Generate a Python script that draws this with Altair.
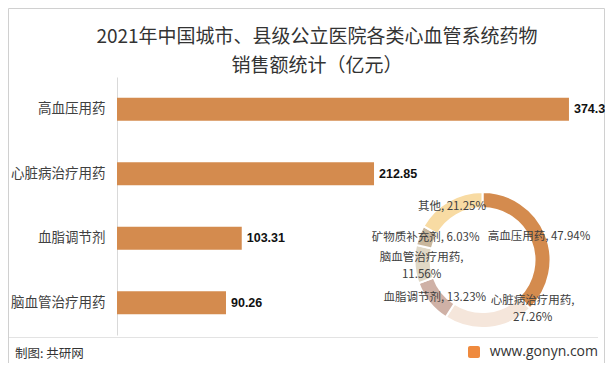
import altair as alt
import pandas as pd

# ---- data ----
bar_categories = ["高血压用药", "心脏病治疗用药", "血脂调节剂", "脑血管治疗用药"]
bar_values = [374.3, 212.85, 103.31, 90.26]

pie_categories = ["高血压用药", "心脏病治疗用药", "血脂调节剂", "脑血管治疗用药", "矿物质补充剂", "其他"]
pie_values = [47.94, 27.26, 13.23, 11.56, 6.03, 21.25]
pie_labels = ["高血压用药, 47.94%", "心脏病治疗用药,\n27.26%", "血脂调节剂, 13.23%",
              "脑血管治疗用药,\n11.56%", "矿物质补充剂, 6.03%", "其他, 21.25%"]
pie_colors = ["#D48B4E", "#F5E6DB", "#CFB1A6", "#E0D8C6", "#C9B79C", "#F8DBA3"]

title_text = "2021年中国城市、县级公立医院各类心血管系统药物\n销售额统计（亿元）"
source_text = "制图: 共研网"
site_text = "www.gonyn.com"

FONT = "Noto Sans CJK SC"

bar_df = pd.DataFrame({"cat": bar_categories, "val": bar_values,
                       "lab": [str(v) for v in bar_values]})
pie_df = pd.DataFrame({"cat": pie_categories, "val": pie_values,
                       "lab": pie_labels, "idx": list(range(len(pie_categories)))})

W, H = 483, 258
CX, CY = 365.5, 183

y_enc = alt.Y("cat:N", sort=bar_categories, title=None,
              scale=alt.Scale(paddingInner=0.64, paddingOuter=0.32),
              axis=alt.Axis(ticks=False, domainColor="#D9D9D9", labelFont=FONT,
                            labelFontSize=13.5, labelColor="#404040", labelPadding=12,
                            grid=False))
x_enc = alt.X("val:Q", scale=alt.Scale(domain=[0, 400]), axis=None)

bars = alt.Chart(bar_df).mark_bar(color="#D48B4E").encode(x=x_enc, y=y_enc)
bar_text = alt.Chart(bar_df).mark_text(align="left", baseline="middle", dx=5,
                                       font="Liberation Sans", fontWeight="bold",
                                       fontSize=12.5, color="#111111").encode(
    x=x_enc, y=y_enc, text="lab:N")

color_enc = alt.Color("cat:N", scale=alt.Scale(domain=pie_categories, range=pie_colors), legend=None)
order_enc = alt.Order("idx:Q", sort="ascending")

ring = alt.Chart(pie_df).mark_arc(outerRadius=68, innerRadius=52, stroke="white",
                                  strokeWidth=2).encode(
    theta=alt.Theta("val:Q", stack=True), color=color_enc, order=order_enc,
    x=alt.value(CX), y=alt.value(CY))

# label angle = middle of each slice, computed from the data before filtering
label_base = alt.Chart(pie_df).transform_joinaggregate(
    total="sum(val)"
).transform_window(
    cum="sum(val)", sort=[alt.SortField("idx", order="ascending")], frame=[None, 0]
).transform_calculate(
    frac="(datum.cum - datum.val / 2) / datum.total",
    multi="indexof(datum.lab, '\\n') >= 0"
).encode(
    theta=alt.Theta("frac:Q", stack=None,
                    scale=alt.Scale(domain=[0, 1], range=[0, 6.283185307179586])),
    x=alt.value(CX), y=alt.value(CY), text="lab:N")

lab_style = dict(radius=61, font=FONT, fontSize=11.5, color="#404040",
                 align="center", baseline="middle", lineBreak="\n", lineHeight=17)
labels_single = label_base.transform_filter("!datum.multi").mark_text(**lab_style)
labels_multi = label_base.transform_filter(
    "datum.multi && datum.cat != '心脏病治疗用药'").mark_text(dy=-6, **lab_style)
label_moved = label_base.transform_filter(
    "datum.cat == '心脏病治疗用药'").mark_text(dx=44, dy=-20, **lab_style)

labels = alt.layer(labels_single, labels_multi, label_moved)

# decorations: frame, title, footer separator, footer texts, logo
one = pd.DataFrame({"k": [0]})
frame = alt.Chart(one).mark_rect(
    fill=None, stroke="#D0D0D0", strokeWidth=1).encode(
    x=alt.value(-108.5), x2=alt.value(487.5), y=alt.value(-68.5), y2=alt.value(286.5))
title = alt.Chart(pd.DataFrame({"t": [title_text]})).mark_text(
    align="center", baseline="middle", font=FONT, fontSize=19, color="#333333",
    lineBreak="\n", lineHeight=29).encode(
    x=alt.value(200), y=alt.value(-40), text="t:N")
sep = alt.Chart(one).mark_rule(color="#E3E3E3", strokeWidth=1).encode(
    x=alt.value(-108), x2=alt.value(481), y=alt.value(260.5))
src = alt.Chart(pd.DataFrame({"t": [source_text]})).mark_text(
    align="left", baseline="middle", font=FONT, fontSize=12.5, color="#333333").encode(
    x=alt.value(-102), y=alt.value(277), text="t:N")
site = alt.Chart(pd.DataFrame({"t": [site_text]})).mark_text(
    align="right", baseline="middle", font="Open Sans", fontSize=14, color="#333333").encode(
    x=alt.value(481), y=alt.value(275), text="t:N")
logo = alt.Chart(one).mark_rect(color="#EF8A3E", cornerRadius=2).encode(
    x=alt.value(351), x2=alt.value(363), y=alt.value(269), y2=alt.value(281))

chart = alt.layer(frame, title, sep, bars, bar_text, ring, labels,
                  src, site, logo).resolve_scale(theta="independent").properties(
    width=W, height=H,
    background="white",
    autosize=alt.AutoSizeParams(type="none"),
    padding={"left": 109, "top": 69, "right": 5, "bottom": 28},
).configure_view(strokeWidth=0)

chart.save("out.html", embed_options={"renderer": "svg", "actions": False})
